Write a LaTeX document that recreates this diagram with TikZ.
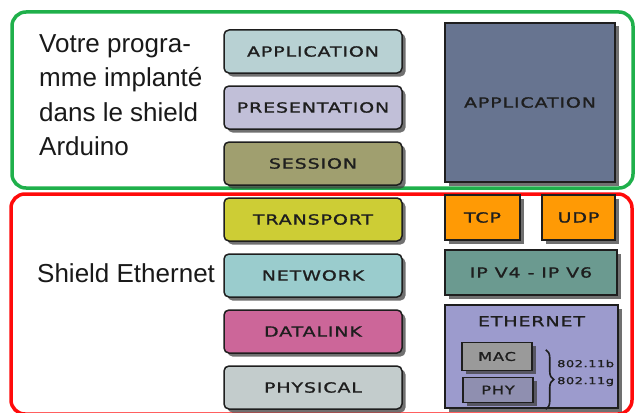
\documentclass[tikz,border=0pt]{standalone}
\usepackage{fontspec}
\setmainfont{Liberation Sans}
\newfontfamily\osifont[FakeStretch=1.36,LetterSpace=6,FakeBold=1.2]{DejaVu Sans}
\usetikzlibrary{shapes.geometric, shadows, positioning, decorations.pathreplacing}

\definecolor{cadregreen}{HTML}{1FB04B}
\definecolor{cadrered}{HTML}{FF0A0A}
\definecolor{appcol}{HTML}{B8D1D3}
\definecolor{prescol}{HTML}{C1BFD8}
\definecolor{sesscol}{HTML}{A09F6F}
\definecolor{transcol}{HTML}{CDCD35}
\definecolor{netcol}{HTML}{9ACCCD}
\definecolor{linkcol}{HTML}{CC6699}
\definecolor{physcol}{HTML}{C3CCCC}
\definecolor{bigappcol}{HTML}{677490}
\definecolor{tcpcol}{HTML}{FF9A05}
\definecolor{ipcol}{HTML}{6B9A90}
\definecolor{ethcol}{HTML}{9C9BCD}
\definecolor{maccol}{HTML}{9A9A9A}
\definecolor{phycol}{HTML}{8F8FB0}
\definecolor{inkcol}{HTML}{1E1E1E}

\tikzstyle{osilayer} = [rectangle, rounded corners=5pt, minimum width=178pt, minimum height=43pt, text centered, draw=inkcol, line width=1.5pt, drop shadow={shadow xshift=3.5pt, shadow yshift=-3.5pt, fill=black!75, opacity=.75}, font={\osifont\fontsize{14}{16}\selectfont}, text=inkcol]
\tikzstyle{stackbox} = [rectangle, text centered, draw=inkcol, line width=1.5pt, drop shadow={shadow xshift=3.5pt, shadow yshift=-3.5pt, fill=black!75, opacity=.75}, font={\osifont\fontsize{14}{16}\selectfont}, text=inkcol]
\tikzstyle{subbox} = [stackbox, minimum width=70pt, font={\osifont\fontsize{12}{14}\selectfont}]
\tikzstyle{cadre} = [rounded corners=14pt, line width=3.5pt]
\tikzstyle{note} = [font={\fontsize{26}{34.3}\selectfont}, align=left, inner sep=0pt, text=black!90]

\begin{document}
\begin{tikzpicture}[x=1pt, y=1pt, node distance=56pt]
\useasboundingbox (0,0) rectangle (636,-412);

% the two zones
\draw [cadre, draw=cadregreen] (12,-12) rectangle (633,-188);
\draw [cadre, draw=cadrered] (11,-194) rectangle (632,-414);

\node (votre) [note, anchor=north west] at (39,-34.5) {Votre progra-\\mme implant\'e\\dans le shield\\Arduino};
\node (shield) [note, anchor=base west] at (37,-282) {Shield Ethernet};

% OSI layers
\node (app) [osilayer, fill=appcol] at (313,-51.5) {APPLICATION};
\node (pres) [osilayer, fill=prescol, below of=app] {PRESENTATION};
\node (sess) [osilayer, fill=sesscol, below of=pres] {SESSION};
\node (trans) [osilayer, fill=transcol, below of=sess] {TRANSPORT};
\node (net) [osilayer, fill=netcol, below of=trans] {NETWORK};
\node (link) [osilayer, fill=linkcol, below of=net] {DATALINK};
\node (phys) [osilayer, fill=physcol, below of=link] {PHYSICAL};

% TCP/IP stack
\node (bigapp) [stackbox, fill=bigappcol, minimum width=170pt, minimum height=159pt, right of=pres, xshift=161pt, yshift=5pt] {APPLICATION};
\node (tcp) [stackbox, fill=tcpcol, minimum width=75pt, minimum height=45pt, right of=trans, xshift=113.5pt, yshift=2pt] {TCP};
\node (udp) [stackbox, fill=tcpcol, minimum width=73pt, minimum height=45pt, right of=tcp, xshift=40pt] {UDP};
\node (ip) [stackbox, fill=ipcol, minimum width=172pt, minimum height=45pt, right of=net, xshift=162pt, yshift=3pt] {IP V4 - IP V6};
\node (eth) [stackbox, fill=ethcol, minimum width=173pt, minimum height=103pt, below of=ip, yshift=-28pt, xshift=.5pt] {};
\node (ethlbl) [font={\osifont\fontsize{14}{16}\selectfont}, text=inkcol] at ([yshift=-17pt]eth.north) {ETHERNET};
\node (mac) [subbox, fill=maccol, minimum height=28pt, left of=eth, xshift=21.5pt] {MAC};
\node (phy) [subbox, fill=phycol, minimum height=25pt, below of=mac, yshift=22.5pt, xshift=1pt] {PHY};

\coordinate (bracetop) at ([xshift=13pt, yshift=-8pt]mac.north east);
\coordinate (bracebot) at ([xshift=12pt, yshift=-6pt]phy.south east);
\draw [line width=1.6pt, inkcol, decorate, decoration={brace, amplitude=8pt}] (bracetop) -- (bracebot);
\node (norme) [font={\osifont\fontsize{9.5}{17}\selectfont}, text=inkcol, align=left, inner sep=0pt, anchor=west] at (557,-373) {802.11b\\802.11g};

\end{tikzpicture}
\end{document}
